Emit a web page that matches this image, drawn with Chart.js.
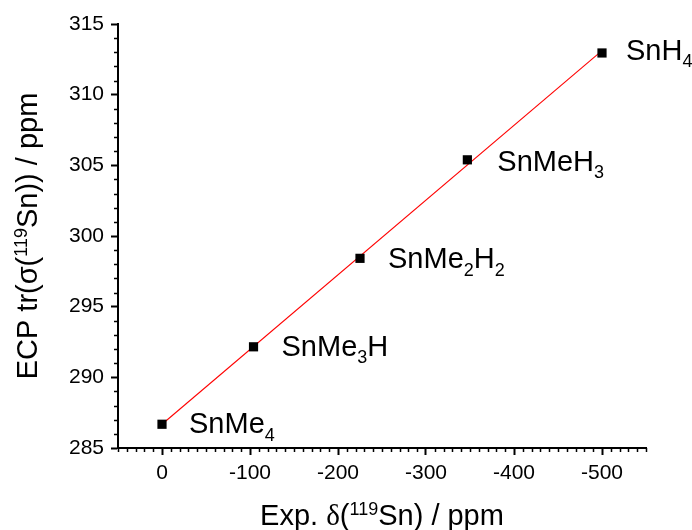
<!DOCTYPE html>
<html>
<head>
<meta charset="utf-8">
<script src="https://cdn.jsdelivr.net/npm/chart.js@4.4.1/dist/chart.umd.min.js"></script>
<style>
  html, body { margin: 0; padding: 0; background: #ffffff; }
  #wrap { width: 692px; height: 530px; }
</style>
</head>
<body>
<div id="wrap"><canvas id="c" width="692" height="530"></canvas></div>
<script>
// Tin compounds: experimental 119Sn chemical shift vs. ECP shielding trace
const compounds = ['SnMe4', 'SnMe3H', 'SnMe2H2', 'SnMeH3', 'SnH4'];
const expShift = [0, -104, -225, -347, -500];
const ecpShielding = [286.68, 292.16, 298.42, 305.39, 312.95];

const xTicks = [0, -100, -200, -300, -400, -500];
const yTicks = [285, 290, 295, 300, 305, 310, 315];

// label placement relative to each marker, in pixels [dx, baseline dy]
const labelNudge = [[27, 9], [28, 9], [28, 10], [30, 11], [24, 7]];

const SANS = '"Liberation Sans", Arial, sans-serif';
const SERIF = '"Liberation Serif", "Times New Roman", serif';
const TEXT_SIZE = 29;

// least-squares line through the points
function linearFit(xs, ys) {
  const n = xs.length;
  const mx = xs.reduce((a, b) => a + b, 0) / n;
  const my = ys.reduce((a, b) => a + b, 0) / n;
  let sxy = 0, sxx = 0;
  for (let i = 0; i < n; i++) {
    sxy += (xs[i] - mx) * (ys[i] - my);
    sxx += (xs[i] - mx) * (xs[i] - mx);
  }
  const slope = sxy / sxx;
  return { slope, intercept: my - slope * mx };
}
const fit = linearFit(expShift, ecpShielding);
const fitX = [Math.max(...expShift), Math.min(...expShift)];
const fitPoints = fitX.map(x => ({ x, y: fit.intercept + fit.slope * x }));

// chemical formula -> segments with digits as subscripts
function formulaSegments(name) {
  return name.match(/\d+|\D+/g).map(t => ({ t, kind: /\d/.test(t) ? 'sub' : 'n' }));
}

const xTitle = [
  { t: 'Exp. ', kind: 'n' }, { t: 'δ', kind: 'serif' }, { t: '(', kind: 'n' },
  { t: '119', kind: 'sup' }, { t: 'Sn) / ppm', kind: 'n' }
];
const yTitle = [
  { t: 'ECP tr(', kind: 'n' }, { t: 'σ', kind: 'n' }, { t: '(', kind: 'n' },
  { t: '119', kind: 'sup' }, { t: 'Sn)) / ppm', kind: 'n' }
];

function segFont(seg, size) {
  if (seg.kind === 'sub' || seg.kind === 'sup') return (size * 0.62).toFixed(1) + 'px ' + SANS;
  if (seg.kind === 'serif') return size + 'px ' + SERIF;
  return size + 'px ' + SANS;
}
function richWidth(ctx, segs, size) {
  let w = 0;
  segs.forEach(s => { ctx.font = segFont(s, size); w += ctx.measureText(s.t).width; });
  return w;
}
function drawRich(ctx, segs, x, y, size, align) {
  ctx.save();
  ctx.fillStyle = '#000';
  ctx.textBaseline = 'alphabetic';
  ctx.textAlign = 'left';
  let cx = x;
  if (align === 'center') cx = x - richWidth(ctx, segs, size) / 2;
  segs.forEach(s => {
    ctx.font = segFont(s, size);
    let dy = 0;
    if (s.kind === 'sub') dy = size * 0.25;
    if (s.kind === 'sup') dy = -size * 0.36;
    ctx.fillText(s.t, cx, y + dy);
    cx += ctx.measureText(s.t).width;
  });
  ctx.restore();
}

// minor tick marks between the labelled ticks
const minorTicks = {
  id: 'minorTicks',
  afterDraw(chart) {
    const ctx = chart.ctx;
    const xs = chart.scales.x, ys = chart.scales.y;
    ctx.save();
    ctx.strokeStyle = '#000';
    ctx.lineWidth = 1.5;
    ctx.beginPath();
    for (let v = ys.min; v <= ys.max; v += 1) {
      if (v % 5 === 0) continue;
      const py = Math.round(ys.getPixelForValue(v)) + 0.5;
      ctx.moveTo(xs.left, py);
      ctx.lineTo(xs.left - 4, py);
    }
    for (let v = xs.min; v <= xs.max; v += 10) {
      if (v % 100 === 0) continue;
      const px = Math.round(xs.getPixelForValue(v)) + 0.5;
      ctx.moveTo(px, ys.bottom);
      ctx.lineTo(px, ys.bottom + 4);
    }
    ctx.stroke();
    ctx.restore();
  }
};

// axis titles and compound labels
const richText = {
  id: 'richText',
  afterDraw(chart) {
    const ctx = chart.ctx;
    const area = chart.chartArea;
    const xs = chart.scales.x, ys = chart.scales.y;
    drawRich(ctx, xTitle, (area.left + area.right) / 2, 525, TEXT_SIZE, 'center');
    ctx.save();
    ctx.translate(37, (area.top + area.bottom) / 2);
    ctx.rotate(-Math.PI / 2);
    drawRich(ctx, yTitle, 0, 0, TEXT_SIZE, 'center');
    ctx.restore();
    compounds.forEach((name, i) => {
      const px = xs.getPixelForValue(expShift[i]);
      const py = ys.getPixelForValue(ecpShielding[i]);
      const [dx, dy] = labelNudge[i];
      drawRich(ctx, formulaSegments(name), px + dx, py + dy, TEXT_SIZE, 'left');
    });
  }
};

const tickFont = { family: SANS, size: 21 };

new Chart(document.getElementById('c'), {
  type: 'scatter',
  data: {
    datasets: [
      {
        type: 'line',
        data: fitPoints,
        showLine: true,
        borderColor: '#ff0000',
        borderWidth: 1.1,
        pointRadius: 0,
        fill: false,
        order: 2
      },
      {
        data: expShift.map((x, i) => ({ x, y: ecpShielding[i] })),
        pointStyle: 'rect',
        pointRadius: 6.5,
        backgroundColor: '#000',
        borderColor: '#000',
        borderWidth: 0,
        order: 1
      }
    ]
  },
  options: {
    responsive: false,
    animation: false,
    devicePixelRatio: 1,
    layout: { padding: { left: 0, right: 46, top: 24, bottom: 0 } },
    plugins: { legend: { display: false }, tooltip: { enabled: false } },
    scales: {
      x: {
        type: 'linear',
        reverse: true,
        min: -550,
        max: 50,
        afterBuildTicks: s => { s.ticks = xTicks.map(v => ({ value: v })); },
        afterFit: s => { s.height = 82; },
        grid: { display: true, drawOnChartArea: false, drawTicks: true, tickLength: 7, tickWidth: 2, tickColor: '#000' },
        border: { display: true, color: '#000', width: 2 },
        ticks: { color: '#000', font: tickFont, padding: 6, maxRotation: 0, autoSkip: false }
      },
      y: {
        type: 'linear',
        min: 285,
        max: 315,
        afterBuildTicks: s => { s.ticks = yTicks.map(v => ({ value: v })); },
        afterFit: s => { s.width = 118; },
        grid: { display: true, drawOnChartArea: false, drawTicks: true, tickLength: 7, tickWidth: 2, tickColor: '#000' },
        border: { display: true, color: '#000', width: 2 },
        ticks: { color: '#000', font: tickFont, padding: 7, autoSkip: false }
      }
    }
  },
  plugins: [minorTicks, richText]
});
</script>
</body>
</html>
